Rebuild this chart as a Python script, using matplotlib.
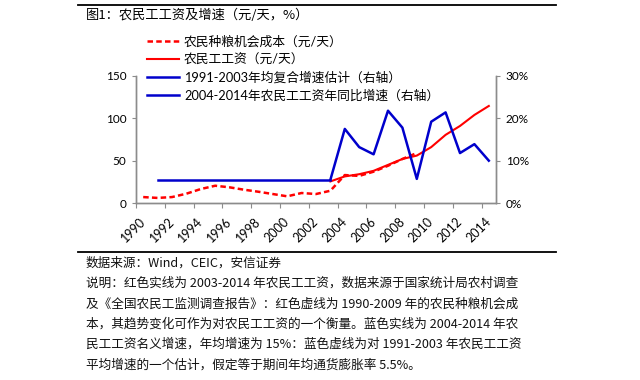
import matplotlib
matplotlib.use("Agg")
import matplotlib.pyplot as plt
import matplotlib.transforms as mtransforms
from matplotlib.lines import Line2D

plt.rcParams['font.family'] = ['Lato', 'Noto Sans CJK SC', 'DejaVu Sans']

# data
years = list(range(1990, 2015))
cost_years = list(range(1990, 2010))
grain_cost = [7, 6, 7, 11, 16.5, 20.4, 18.5, 15.7, 13.3, 10.6,
              7.9, 11.8, 10.6, 14.5, 33, 32, 37, 44, 52, 59]
wage_years = list(range(2003, 2015))
wage = [25.5, 31.4, 34, 38, 45, 52, 56, 66, 80.5, 91, 104, 114.6]
est_years = list(range(1991, 2004))
est_growth = [5.5] * len(est_years)
yoy_years = list(range(2003, 2015))
yoy_growth = [5.5, 17.5, 13.2, 11.5, 21.8, 17.8, 5.7, 19.2, 21.4, 11.8, 13.9, 10.0]

labels = ['农民种粮机会成本（元/天）', '农民工工资（元/天）',
          '1991-2003年均复合增速估计（右轴）', '2004-2014年农民工工资年同比增速（右轴）']
title = '图1：农民工工资及增速（元/天，%）'
notes = [
    '数据来源：Wind，CEIC，安信证券',
    '说明：红色实线为 2003-2014 年农民工工资，数据来源于国家统计局农村调查',
    '及《全国农民工监测调查报告》：红色虚线为 1990-2009 年的农民种粮机会成',
    '本，其趋势变化可作为对农民工工资的一个衡量。蓝色实线为 2004-2014 年农',
    '民工工资名义增速，年均增速为 15%：蓝色虚线为对 1991-2003 年农民工工资',
    '平均增速的一个估计，假定等于期间年均通货膨胀率 5.5%。',
]

RED = '#FF0000'
BLUE = '#0000CC'
SPINE = '#8C8C8C'
W, H = 640, 380

fig = plt.figure(figsize=(6.4, 3.8), dpi=100)
ax = fig.add_axes([136 / W, 1 - 203 / H, 360 / W, 127 / H])
ax2 = ax.twinx()


def idx(ys):
    return [y - 1990 for y in ys]


l1, = ax.plot(idx(cost_years), grain_cost, color=RED, lw=1.8, ls=(0, (2.2, 1.3)))
l2, = ax.plot(idx(wage_years), wage, color=RED, lw=1.5)
l3, = ax2.plot(idx(est_years), est_growth, color=BLUE, lw=1.8)
l4, = ax2.plot(idx(yoy_years), yoy_growth, color=BLUE, lw=1.8)

ax.set_xlim(-0.5, len(years) - 0.5)
ax.set_ylim(0, 150)
ax2.set_ylim(0, 30)
ax.set_yticks([0, 50, 100, 150])
ax2.set_yticks([0, 10, 20, 30])
ax2.set_yticklabels(['0%', '10%', '20%', '30%'])

# category axis: tick marks between categories, labels on every other year
ax.set_xticks([i - 0.5 for i in range(0, len(years), 2)])
ax.set_xticklabels([])
ax.set_xticks(list(range(0, len(years), 2)), minor=True)
ax.set_xticklabels([str(y) for y in years[::2]], minor=True, rotation=45,
                   ha='right', va='top', rotation_mode='anchor', fontsize=9)
ax.tick_params(axis='x', which='minor', length=0, pad=9)
ax.tick_params(axis='x', which='major', length=3.5, color=SPINE, direction='out')
ax.tick_params(axis='y', length=3, color=SPINE, labelsize=8.5, pad=4)
ax2.tick_params(axis='y', length=3, color=SPINE, labelsize=8.5, pad=4)
shift = mtransforms.ScaledTranslation(-4 / 100, 0, fig.dpi_scale_trans)
for lab in ax.get_xticklabels(minor=True):
    lab.set_transform(lab.get_transform() + shift)

for a in (ax, ax2):
    a.spines['top'].set_visible(False)
    for s in ('left', 'right', 'bottom'):
        a.spines[s].set_color(SPINE)
        a.spines[s].set_linewidth(1.0)
    a.patch.set_visible(False)

# legend in the upper left, no frame
fig.legend([l1, l2, l3, l4], labels, loc='upper left',
           bbox_to_anchor=(147 / W, 1 - 35 / H), frameon=False,
           borderpad=0, borderaxespad=0, handlelength=2.5,
           handletextpad=0.4, labelspacing=0.45, fontsize=9.2)

# header / footer rules and texts
fig.add_artist(Line2D([78 / W, 556 / W], [1 - 5 / H] * 2, color='black', lw=1.3))
fig.add_artist(Line2D([78 / W, 556 / W], [1 - 252 / H] * 2, color='black', lw=1.3))
fig.text(86 / W, 1 - 15 / H, title, fontsize=9.5, va='center', ha='left',
         family=['Noto Sans CJK SC', 'DejaVu Sans'])

for i, line in enumerate(notes):
    fig.text(86 / W, 1 - (263 + 20.4 * i) / H, line, fontsize=9.1,
             va='center', ha='left', color='#111111',
             family=['Noto Sans CJK SC', 'DejaVu Sans'])

fig.savefig('out.png', dpi=100)
